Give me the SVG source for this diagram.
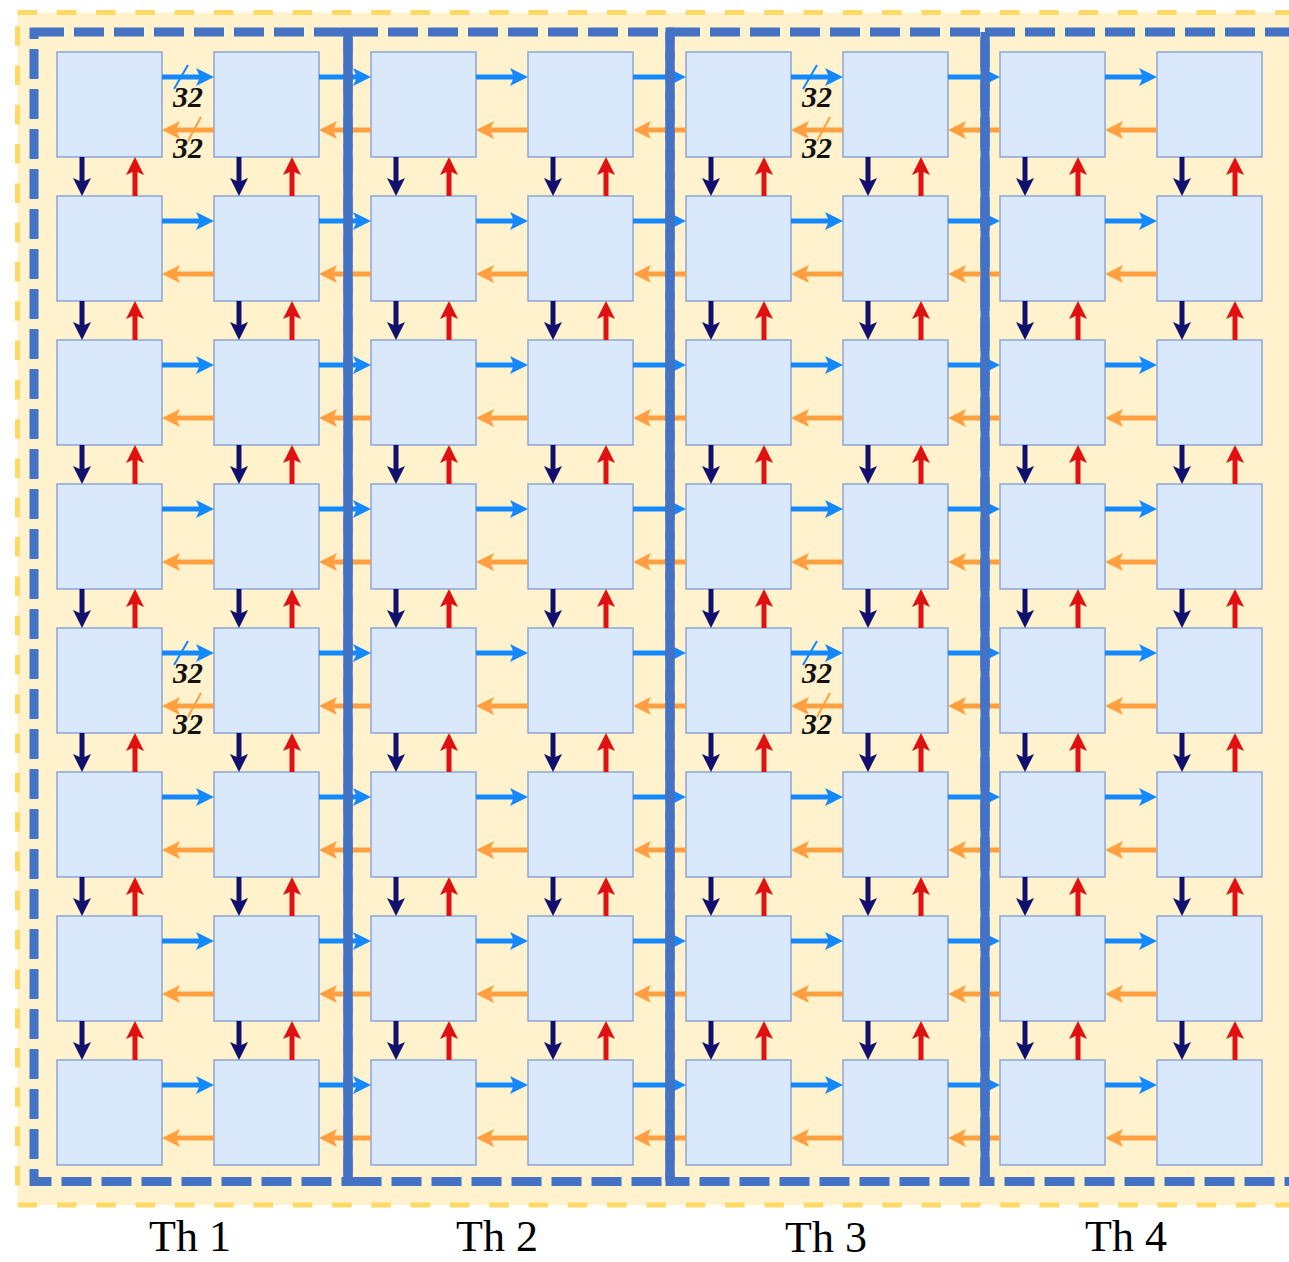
<svg xmlns="http://www.w3.org/2000/svg" width="1289" height="1262" viewBox="0 0 1289 1262">
<style>
.nd{fill:#DAE8FC;stroke:#8BA6D6;stroke-width:1.5}
.hb{stroke:#1388FF;stroke-width:5;fill:none;marker-end:url(#mb)}
.ho{stroke:#FF9F40;stroke-width:5;fill:none;marker-end:url(#mo)}
.vd{stroke:#10106E;stroke-width:5;fill:none;marker-end:url(#mn)}
.vu{stroke:#E11111;stroke-width:5;fill:none;marker-end:url(#mr)}
.th{fill:none;stroke:#4472C4;stroke-width:9;stroke-dasharray:30 10}
.dv{stroke:#4472C4;stroke-width:9}
.sb{stroke:#1388FF;stroke-width:2}
.so{stroke:#FF9F40;stroke-width:2}
.n32{font-family:"Liberation Serif",serif;font-size:30px;font-weight:bold;font-style:italic;fill:#111;text-anchor:middle}
.lbl{font-family:"Liberation Serif",serif;font-size:44px;fill:#000;text-anchor:middle}
</style>
<defs>
<marker id="mb" markerUnits="userSpaceOnUse" viewBox="0 0 18 18" markerWidth="18" markerHeight="18" refX="6" refY="9" orient="auto"><path d="M0,0 L18,9 L0,18 L4,9 Z" fill="#1388FF"/></marker>
<marker id="mo" markerUnits="userSpaceOnUse" viewBox="0 0 18 18" markerWidth="18" markerHeight="18" refX="6" refY="9" orient="auto"><path d="M0,0 L18,9 L0,18 L4,9 Z" fill="#FF9F40"/></marker>
<marker id="mn" markerUnits="userSpaceOnUse" viewBox="0 0 18 18" markerWidth="18" markerHeight="18" refX="6" refY="9" orient="auto"><path d="M0,0 L18,9 L0,18 L4,9 Z" fill="#10106E"/></marker>
<marker id="mr" markerUnits="userSpaceOnUse" viewBox="0 0 18 18" markerWidth="18" markerHeight="18" refX="6" refY="9" orient="auto"><path d="M0,0 L18,9 L0,18 L4,9 Z" fill="#E11111"/></marker>
</defs>
<rect width="1289" height="1262" fill="#FFFFFF"/>
<g id="background">
<rect x="17.5" y="12.5" width="1300" height="1192.5" fill="#FFF2CC" stroke="#FFD966" stroke-width="5" stroke-dasharray="19.5 19.8"/>
</g>
<g id="nodes">
<g id="n0_0"><rect class="nd" x="57" y="52" width="105" height="105"/></g>
<g id="n0_1"><rect class="nd" x="214" y="52" width="105" height="105"/></g>
<g id="n0_2"><rect class="nd" x="371" y="52" width="105" height="105"/></g>
<g id="n0_3"><rect class="nd" x="528" y="52" width="105" height="105"/></g>
<g id="n0_4"><rect class="nd" x="686" y="52" width="105" height="105"/></g>
<g id="n0_5"><rect class="nd" x="843" y="52" width="105" height="105"/></g>
<g id="n0_6"><rect class="nd" x="1000" y="52" width="105" height="105"/></g>
<g id="n0_7"><rect class="nd" x="1157" y="52" width="105" height="105"/></g>
<g id="n1_0"><rect class="nd" x="57" y="196" width="105" height="105"/></g>
<g id="n1_1"><rect class="nd" x="214" y="196" width="105" height="105"/></g>
<g id="n1_2"><rect class="nd" x="371" y="196" width="105" height="105"/></g>
<g id="n1_3"><rect class="nd" x="528" y="196" width="105" height="105"/></g>
<g id="n1_4"><rect class="nd" x="686" y="196" width="105" height="105"/></g>
<g id="n1_5"><rect class="nd" x="843" y="196" width="105" height="105"/></g>
<g id="n1_6"><rect class="nd" x="1000" y="196" width="105" height="105"/></g>
<g id="n1_7"><rect class="nd" x="1157" y="196" width="105" height="105"/></g>
<g id="n2_0"><rect class="nd" x="57" y="340" width="105" height="105"/></g>
<g id="n2_1"><rect class="nd" x="214" y="340" width="105" height="105"/></g>
<g id="n2_2"><rect class="nd" x="371" y="340" width="105" height="105"/></g>
<g id="n2_3"><rect class="nd" x="528" y="340" width="105" height="105"/></g>
<g id="n2_4"><rect class="nd" x="686" y="340" width="105" height="105"/></g>
<g id="n2_5"><rect class="nd" x="843" y="340" width="105" height="105"/></g>
<g id="n2_6"><rect class="nd" x="1000" y="340" width="105" height="105"/></g>
<g id="n2_7"><rect class="nd" x="1157" y="340" width="105" height="105"/></g>
<g id="n3_0"><rect class="nd" x="57" y="484" width="105" height="105"/></g>
<g id="n3_1"><rect class="nd" x="214" y="484" width="105" height="105"/></g>
<g id="n3_2"><rect class="nd" x="371" y="484" width="105" height="105"/></g>
<g id="n3_3"><rect class="nd" x="528" y="484" width="105" height="105"/></g>
<g id="n3_4"><rect class="nd" x="686" y="484" width="105" height="105"/></g>
<g id="n3_5"><rect class="nd" x="843" y="484" width="105" height="105"/></g>
<g id="n3_6"><rect class="nd" x="1000" y="484" width="105" height="105"/></g>
<g id="n3_7"><rect class="nd" x="1157" y="484" width="105" height="105"/></g>
<g id="n4_0"><rect class="nd" x="57" y="628" width="105" height="105"/></g>
<g id="n4_1"><rect class="nd" x="214" y="628" width="105" height="105"/></g>
<g id="n4_2"><rect class="nd" x="371" y="628" width="105" height="105"/></g>
<g id="n4_3"><rect class="nd" x="528" y="628" width="105" height="105"/></g>
<g id="n4_4"><rect class="nd" x="686" y="628" width="105" height="105"/></g>
<g id="n4_5"><rect class="nd" x="843" y="628" width="105" height="105"/></g>
<g id="n4_6"><rect class="nd" x="1000" y="628" width="105" height="105"/></g>
<g id="n4_7"><rect class="nd" x="1157" y="628" width="105" height="105"/></g>
<g id="n5_0"><rect class="nd" x="57" y="772" width="105" height="105"/></g>
<g id="n5_1"><rect class="nd" x="214" y="772" width="105" height="105"/></g>
<g id="n5_2"><rect class="nd" x="371" y="772" width="105" height="105"/></g>
<g id="n5_3"><rect class="nd" x="528" y="772" width="105" height="105"/></g>
<g id="n5_4"><rect class="nd" x="686" y="772" width="105" height="105"/></g>
<g id="n5_5"><rect class="nd" x="843" y="772" width="105" height="105"/></g>
<g id="n5_6"><rect class="nd" x="1000" y="772" width="105" height="105"/></g>
<g id="n5_7"><rect class="nd" x="1157" y="772" width="105" height="105"/></g>
<g id="n6_0"><rect class="nd" x="57" y="916" width="105" height="105"/></g>
<g id="n6_1"><rect class="nd" x="214" y="916" width="105" height="105"/></g>
<g id="n6_2"><rect class="nd" x="371" y="916" width="105" height="105"/></g>
<g id="n6_3"><rect class="nd" x="528" y="916" width="105" height="105"/></g>
<g id="n6_4"><rect class="nd" x="686" y="916" width="105" height="105"/></g>
<g id="n6_5"><rect class="nd" x="843" y="916" width="105" height="105"/></g>
<g id="n6_6"><rect class="nd" x="1000" y="916" width="105" height="105"/></g>
<g id="n6_7"><rect class="nd" x="1157" y="916" width="105" height="105"/></g>
<g id="n7_0"><rect class="nd" x="57" y="1060" width="105" height="105"/></g>
<g id="n7_1"><rect class="nd" x="214" y="1060" width="105" height="105"/></g>
<g id="n7_2"><rect class="nd" x="371" y="1060" width="105" height="105"/></g>
<g id="n7_3"><rect class="nd" x="528" y="1060" width="105" height="105"/></g>
<g id="n7_4"><rect class="nd" x="686" y="1060" width="105" height="105"/></g>
<g id="n7_5"><rect class="nd" x="843" y="1060" width="105" height="105"/></g>
<g id="n7_6"><rect class="nd" x="1000" y="1060" width="105" height="105"/></g>
<g id="n7_7"><rect class="nd" x="1157" y="1060" width="105" height="105"/></g>
</g>
<g id="connectors">
<path class="hb" d="M162 77H202"/><path class="hb" d="M319 77H359"/><path class="hb" d="M476 77H516"/><path class="hb" d="M633 77H674"/><path class="hb" d="M791 77H831"/><path class="hb" d="M948 77H988"/><path class="hb" d="M1105 77H1145"/>
<path class="ho" d="M214 130H174"/><path class="ho" d="M371 130H331"/><path class="ho" d="M528 130H488"/><path class="ho" d="M686 130H645"/><path class="ho" d="M843 130H803"/><path class="ho" d="M1000 130H960"/><path class="ho" d="M1157 130H1117"/>
<path class="hb" d="M162 221H202"/><path class="hb" d="M319 221H359"/><path class="hb" d="M476 221H516"/><path class="hb" d="M633 221H674"/><path class="hb" d="M791 221H831"/><path class="hb" d="M948 221H988"/><path class="hb" d="M1105 221H1145"/>
<path class="ho" d="M214 274H174"/><path class="ho" d="M371 274H331"/><path class="ho" d="M528 274H488"/><path class="ho" d="M686 274H645"/><path class="ho" d="M843 274H803"/><path class="ho" d="M1000 274H960"/><path class="ho" d="M1157 274H1117"/>
<path class="hb" d="M162 365H202"/><path class="hb" d="M319 365H359"/><path class="hb" d="M476 365H516"/><path class="hb" d="M633 365H674"/><path class="hb" d="M791 365H831"/><path class="hb" d="M948 365H988"/><path class="hb" d="M1105 365H1145"/>
<path class="ho" d="M214 418H174"/><path class="ho" d="M371 418H331"/><path class="ho" d="M528 418H488"/><path class="ho" d="M686 418H645"/><path class="ho" d="M843 418H803"/><path class="ho" d="M1000 418H960"/><path class="ho" d="M1157 418H1117"/>
<path class="hb" d="M162 509H202"/><path class="hb" d="M319 509H359"/><path class="hb" d="M476 509H516"/><path class="hb" d="M633 509H674"/><path class="hb" d="M791 509H831"/><path class="hb" d="M948 509H988"/><path class="hb" d="M1105 509H1145"/>
<path class="ho" d="M214 562H174"/><path class="ho" d="M371 562H331"/><path class="ho" d="M528 562H488"/><path class="ho" d="M686 562H645"/><path class="ho" d="M843 562H803"/><path class="ho" d="M1000 562H960"/><path class="ho" d="M1157 562H1117"/>
<path class="hb" d="M162 653H202"/><path class="hb" d="M319 653H359"/><path class="hb" d="M476 653H516"/><path class="hb" d="M633 653H674"/><path class="hb" d="M791 653H831"/><path class="hb" d="M948 653H988"/><path class="hb" d="M1105 653H1145"/>
<path class="ho" d="M214 706H174"/><path class="ho" d="M371 706H331"/><path class="ho" d="M528 706H488"/><path class="ho" d="M686 706H645"/><path class="ho" d="M843 706H803"/><path class="ho" d="M1000 706H960"/><path class="ho" d="M1157 706H1117"/>
<path class="hb" d="M162 797H202"/><path class="hb" d="M319 797H359"/><path class="hb" d="M476 797H516"/><path class="hb" d="M633 797H674"/><path class="hb" d="M791 797H831"/><path class="hb" d="M948 797H988"/><path class="hb" d="M1105 797H1145"/>
<path class="ho" d="M214 850H174"/><path class="ho" d="M371 850H331"/><path class="ho" d="M528 850H488"/><path class="ho" d="M686 850H645"/><path class="ho" d="M843 850H803"/><path class="ho" d="M1000 850H960"/><path class="ho" d="M1157 850H1117"/>
<path class="hb" d="M162 941H202"/><path class="hb" d="M319 941H359"/><path class="hb" d="M476 941H516"/><path class="hb" d="M633 941H674"/><path class="hb" d="M791 941H831"/><path class="hb" d="M948 941H988"/><path class="hb" d="M1105 941H1145"/>
<path class="ho" d="M214 994H174"/><path class="ho" d="M371 994H331"/><path class="ho" d="M528 994H488"/><path class="ho" d="M686 994H645"/><path class="ho" d="M843 994H803"/><path class="ho" d="M1000 994H960"/><path class="ho" d="M1157 994H1117"/>
<path class="hb" d="M162 1085H202"/><path class="hb" d="M319 1085H359"/><path class="hb" d="M476 1085H516"/><path class="hb" d="M633 1085H674"/><path class="hb" d="M791 1085H831"/><path class="hb" d="M948 1085H988"/><path class="hb" d="M1105 1085H1145"/>
<path class="ho" d="M214 1138H174"/><path class="ho" d="M371 1138H331"/><path class="ho" d="M528 1138H488"/><path class="ho" d="M686 1138H645"/><path class="ho" d="M843 1138H803"/><path class="ho" d="M1000 1138H960"/><path class="ho" d="M1157 1138H1117"/>
<path class="vd" d="M82 157V184"/><path class="vd" d="M239 157V184"/><path class="vd" d="M396 157V184"/><path class="vd" d="M553 157V184"/><path class="vd" d="M711 157V184"/><path class="vd" d="M868 157V184"/><path class="vd" d="M1025 157V184"/><path class="vd" d="M1182 157V184"/>
<path class="vu" d="M135 196V169"/><path class="vu" d="M292 196V169"/><path class="vu" d="M449 196V169"/><path class="vu" d="M606 196V169"/><path class="vu" d="M764 196V169"/><path class="vu" d="M921 196V169"/><path class="vu" d="M1078 196V169"/><path class="vu" d="M1235 196V169"/>
<path class="vd" d="M82 301V328"/><path class="vd" d="M239 301V328"/><path class="vd" d="M396 301V328"/><path class="vd" d="M553 301V328"/><path class="vd" d="M711 301V328"/><path class="vd" d="M868 301V328"/><path class="vd" d="M1025 301V328"/><path class="vd" d="M1182 301V328"/>
<path class="vu" d="M135 340V313"/><path class="vu" d="M292 340V313"/><path class="vu" d="M449 340V313"/><path class="vu" d="M606 340V313"/><path class="vu" d="M764 340V313"/><path class="vu" d="M921 340V313"/><path class="vu" d="M1078 340V313"/><path class="vu" d="M1235 340V313"/>
<path class="vd" d="M82 445V472"/><path class="vd" d="M239 445V472"/><path class="vd" d="M396 445V472"/><path class="vd" d="M553 445V472"/><path class="vd" d="M711 445V472"/><path class="vd" d="M868 445V472"/><path class="vd" d="M1025 445V472"/><path class="vd" d="M1182 445V472"/>
<path class="vu" d="M135 484V457"/><path class="vu" d="M292 484V457"/><path class="vu" d="M449 484V457"/><path class="vu" d="M606 484V457"/><path class="vu" d="M764 484V457"/><path class="vu" d="M921 484V457"/><path class="vu" d="M1078 484V457"/><path class="vu" d="M1235 484V457"/>
<path class="vd" d="M82 589V616"/><path class="vd" d="M239 589V616"/><path class="vd" d="M396 589V616"/><path class="vd" d="M553 589V616"/><path class="vd" d="M711 589V616"/><path class="vd" d="M868 589V616"/><path class="vd" d="M1025 589V616"/><path class="vd" d="M1182 589V616"/>
<path class="vu" d="M135 628V601"/><path class="vu" d="M292 628V601"/><path class="vu" d="M449 628V601"/><path class="vu" d="M606 628V601"/><path class="vu" d="M764 628V601"/><path class="vu" d="M921 628V601"/><path class="vu" d="M1078 628V601"/><path class="vu" d="M1235 628V601"/>
<path class="vd" d="M82 733V760"/><path class="vd" d="M239 733V760"/><path class="vd" d="M396 733V760"/><path class="vd" d="M553 733V760"/><path class="vd" d="M711 733V760"/><path class="vd" d="M868 733V760"/><path class="vd" d="M1025 733V760"/><path class="vd" d="M1182 733V760"/>
<path class="vu" d="M135 772V745"/><path class="vu" d="M292 772V745"/><path class="vu" d="M449 772V745"/><path class="vu" d="M606 772V745"/><path class="vu" d="M764 772V745"/><path class="vu" d="M921 772V745"/><path class="vu" d="M1078 772V745"/><path class="vu" d="M1235 772V745"/>
<path class="vd" d="M82 877V904"/><path class="vd" d="M239 877V904"/><path class="vd" d="M396 877V904"/><path class="vd" d="M553 877V904"/><path class="vd" d="M711 877V904"/><path class="vd" d="M868 877V904"/><path class="vd" d="M1025 877V904"/><path class="vd" d="M1182 877V904"/>
<path class="vu" d="M135 916V889"/><path class="vu" d="M292 916V889"/><path class="vu" d="M449 916V889"/><path class="vu" d="M606 916V889"/><path class="vu" d="M764 916V889"/><path class="vu" d="M921 916V889"/><path class="vu" d="M1078 916V889"/><path class="vu" d="M1235 916V889"/>
<path class="vd" d="M82 1021V1048"/><path class="vd" d="M239 1021V1048"/><path class="vd" d="M396 1021V1048"/><path class="vd" d="M553 1021V1048"/><path class="vd" d="M711 1021V1048"/><path class="vd" d="M868 1021V1048"/><path class="vd" d="M1025 1021V1048"/><path class="vd" d="M1182 1021V1048"/>
<path class="vu" d="M135 1060V1033"/><path class="vu" d="M292 1060V1033"/><path class="vu" d="M449 1060V1033"/><path class="vu" d="M606 1060V1033"/><path class="vu" d="M764 1060V1033"/><path class="vu" d="M921 1060V1033"/><path class="vu" d="M1078 1060V1033"/><path class="vu" d="M1235 1060V1033"/>
</g>
<g id="threads">
<rect class="th" x="34" y="32" width="314" height="1149.5"/>
<rect class="th" x="348" y="32" width="322" height="1149.5"/>
<rect class="th" x="670" y="32" width="315" height="1149.5"/>
<rect class="th" x="985" y="32" width="330" height="1149.5"/>
<path class="dv" d="M348 32V1181.5M670 32V1181.5M985 32V1181.5"/>
</g>
<g id="bus-widths">
<path class="sb" d="M174 89L188 65"/><path class="so" d="M188 141L201 117"/>
<text class="n32" x="188" y="107">32</text><text class="n32" x="188" y="158">32</text>
<path class="sb" d="M803 89L817 65"/><path class="so" d="M817 141L830 117"/>
<text class="n32" x="817" y="107">32</text><text class="n32" x="817" y="158">32</text>
<path class="sb" d="M174 665L188 641"/><path class="so" d="M188 717L201 693"/>
<text class="n32" x="188" y="683">32</text><text class="n32" x="188" y="734">32</text>
<path class="sb" d="M803 665L817 641"/><path class="so" d="M817 717L830 693"/>
<text class="n32" x="817" y="683">32</text><text class="n32" x="817" y="734">32</text>
</g>
<g id="labels">
<text class="lbl" x="190" y="1251">Th 1</text>
<text class="lbl" x="497" y="1251">Th 2</text>
<text class="lbl" x="826" y="1252">Th 3</text>
<text class="lbl" x="1126" y="1251">Th 4</text>
</g>
</svg>
